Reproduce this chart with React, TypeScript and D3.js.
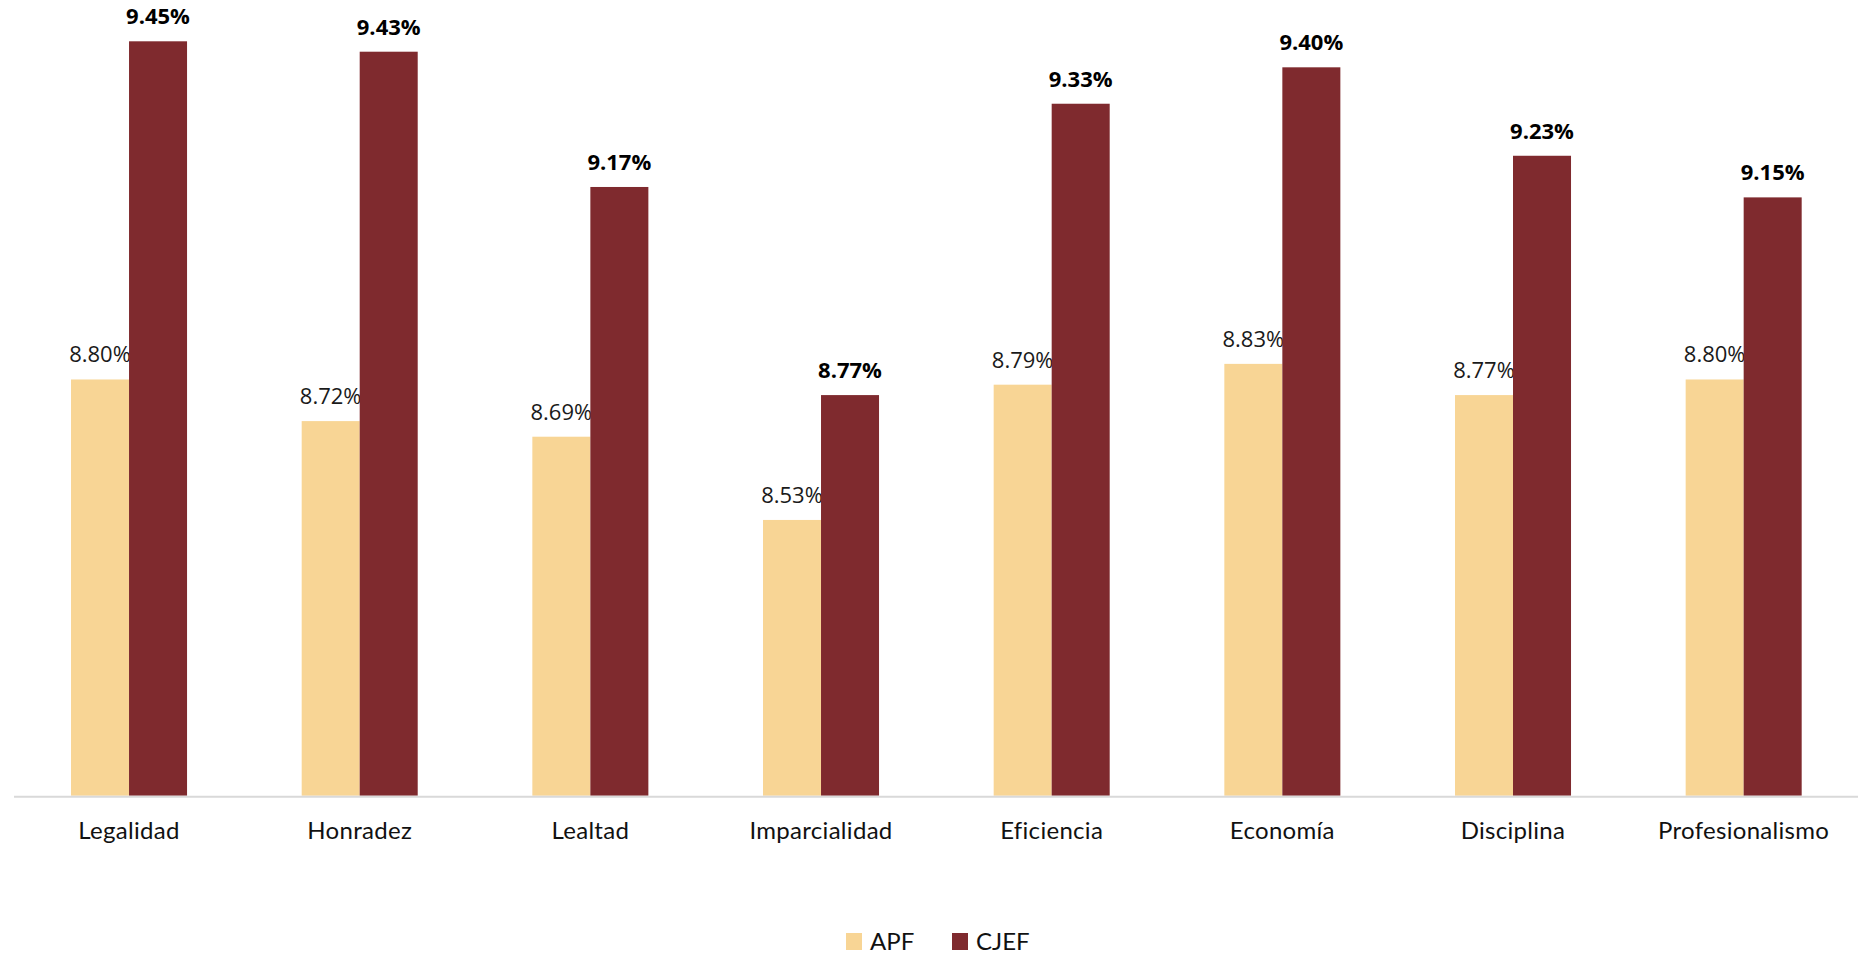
import { useEffect, useRef } from 'react';
import * as d3 from 'd3';

const categories = ['Legalidad', 'Honradez', 'Lealtad', 'Imparcialidad', 'Eficiencia', 'Economía', 'Disciplina', 'Profesionalismo'];
const apfValues = [8.8, 8.72, 8.69, 8.53, 8.79, 8.83, 8.77, 8.8];
const cjefValues = [9.45, 9.43, 9.17, 8.77, 9.33, 9.4, 9.23, 9.15];
const seriesNames = ['APF', 'CJEF'];
const seriesColors = ['#F8D595', '#7F2A2E'];

const WIDTH = 1867;
const HEIGHT = 956;

export default function App() {
  const svgRef = useRef<SVGSVGElement>(null);

  useEffect(() => {
    if (!svgRef.current) return;
    const svg = d3.select(svgRef.current);
    svg.selectAll('*').remove();

    const baseline = 795.7;
    const x = d3.scaleBand<string>().domain(categories).range([13.7, 1859]).paddingInner(0.497).paddingOuter(0.2485);
    const sub = d3.scaleBand<string>().domain(seriesNames).range([0, x.bandwidth()]);
    const y = d3.scaleLinear().domain([8, 9.45]).range([baseline, 41.3]);

    const series = [apfValues, cjefValues];

    const groups = svg
      .append('g')
      .selectAll('g')
      .data(categories)
      .join('g')
      .attr('transform', (d) => `translate(${x(d)},0)`);

    series.forEach((vals, si) => {
      groups
        .append('rect')
        .attr('x', sub(seriesNames[si])!)
        .attr('width', sub.bandwidth())
        .attr('y', (_, i) => y(vals[i]))
        .attr('height', (_, i) => baseline - y(vals[i]))
        .attr('fill', seriesColors[si]);

      groups
        .append('text')
        .attr('x', sub(seriesNames[si])! + sub.bandwidth() / 2)
        .attr('y', (_, i) => y(vals[i]) - 17)
        .attr('text-anchor', 'middle')
        .attr('font-family', '"Open Sans", sans-serif')
        .attr('font-size', 22)
        .attr('font-weight', si === 1 ? 700 : 400)
        .attr('fill', si === 1 ? '#000' : '#1a1a1a')
        .text((_, i) => `${vals[i].toFixed(2)}%`);
    });

    // axis line
    svg
      .append('line')
      .attr('x1', 14)
      .attr('x2', 1858)
      .attr('y1', baseline + 1)
      .attr('y2', baseline + 1)
      .attr('stroke', '#d9d9d9')
      .attr('stroke-width', 2);

    svg
      .append('g')
      .selectAll('text')
      .data(categories)
      .join('text')
      .attr('x', (d) => x(d)! + x.bandwidth() / 2)
      .attr('y', 839)
      .attr('text-anchor', 'middle')
      .attr('font-family', 'Lato, sans-serif')
      .attr('font-size', 24)
      .attr('letter-spacing', 0.3)
      .attr('fill', '#111')
      .text((d) => d);

    // legend
    const legendX = [846, 952];
    const legend = svg
      .append('g')
      .selectAll('g')
      .data(seriesNames)
      .join('g')
      .attr('transform', (_, i) => `translate(${legendX[i]},950)`);

    legend
      .append('rect')
      .attr('x', 0)
      .attr('y', -17)
      .attr('width', 16)
      .attr('height', 17)
      .attr('fill', (_, i) => seriesColors[i]);

    legend
      .append('text')
      .attr('x', 24)
      .attr('y', 0)
      .attr('font-family', 'Lato, sans-serif')
      .attr('font-size', 24)
      .attr('fill', '#111')
      .text((d) => d);
  }, []);

  return (
    <svg
      ref={svgRef}
      width={WIDTH}
      height={HEIGHT}
      style={{ position: 'absolute', left: 0, top: 0, background: '#fff' }}
    />
  );
}
